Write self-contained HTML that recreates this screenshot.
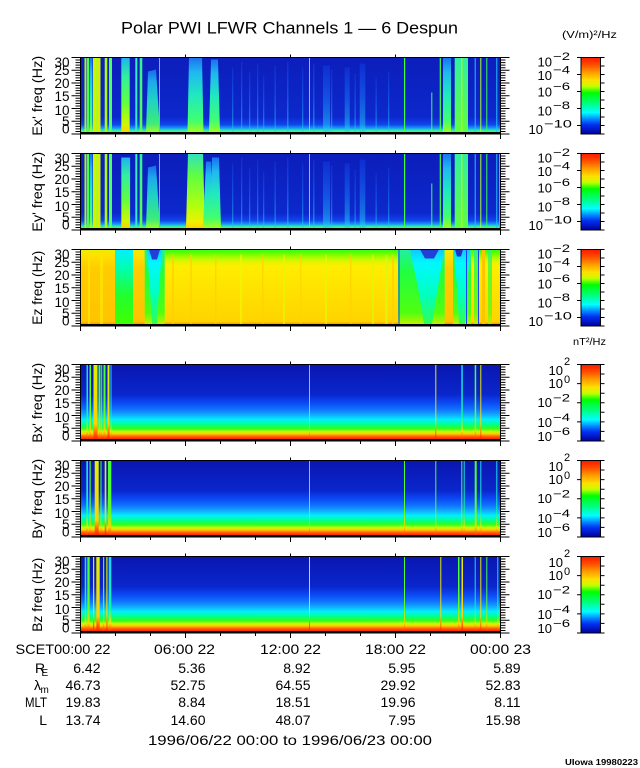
<!DOCTYPE html>
<html><head><meta charset="utf-8">
<style>
html,body{margin:0;padding:0;background:#fff;}
svg{display:block;}
text{font-family:"Liberation Sans",sans-serif;fill:#000;}
.yl{font-size:13.5px;text-anchor:end;}
.cb{font-size:13px;}
.sp{font-size:11px;}
.bt{font-size:14px;}
.ve{font-size:14px;text-anchor:end;}
</style></head>
<body>
<svg xmlns="http://www.w3.org/2000/svg" xmlns:xlink="http://www.w3.org/1999/xlink" width="640" height="768" viewBox="0 0 640 768">
<defs>
<linearGradient id="gCB" x1="0" y1="0" x2="0" y2="1">
<stop offset="0" stop-color="#ff1800"/><stop offset="0.1" stop-color="#ff5000"/><stop offset="0.2" stop-color="#ffa000"/><stop offset="0.3" stop-color="#ffe000"/><stop offset="0.38" stop-color="#c0ff00"/><stop offset="0.46" stop-color="#00ff00"/><stop offset="0.6" stop-color="#00ff80"/><stop offset="0.72" stop-color="#00ffff"/><stop offset="0.8" stop-color="#0090ff"/><stop offset="0.88" stop-color="#0030f0"/><stop offset="1" stop-color="#0000a0"/>
</linearGradient>
<linearGradient id="gE" x1="0" y1="0" x2="0" y2="1">
<stop offset="0" stop-color="#0c1eba"/><stop offset="0.8" stop-color="#0c28cc"/><stop offset="0.9" stop-color="#1044ee"/><stop offset="0.95" stop-color="#18a0f0"/><stop offset="0.98" stop-color="#30f0a0"/><stop offset="1" stop-color="#40ff60"/>
</linearGradient>
<linearGradient id="gPl" x1="0" y1="0" x2="0" y2="1">
<stop offset="0" stop-color="#1a70f0"/><stop offset="0.2" stop-color="#20b8f0"/><stop offset="0.5" stop-color="#20e8c0"/><stop offset="0.85" stop-color="#40ff70"/><stop offset="1" stop-color="#a0ff20"/>
</linearGradient>
<linearGradient id="gPlY" x1="0" y1="0" x2="0" y2="1">
<stop offset="0" stop-color="#20b0f0"/><stop offset="0.25" stop-color="#30f0a0"/><stop offset="0.6" stop-color="#60ff40"/><stop offset="0.9" stop-color="#d0f800"/><stop offset="1" stop-color="#ffd000"/>
</linearGradient>
<linearGradient id="gPlY2" x1="0" y1="0" x2="0" y2="1">
<stop offset="0" stop-color="#30e0c0"/><stop offset="0.3" stop-color="#60ff40"/><stop offset="0.7" stop-color="#b0ff10"/><stop offset="0.92" stop-color="#f0f000"/><stop offset="1" stop-color="#ffd000"/>
</linearGradient>
<linearGradient id="gCy" x1="0" y1="0" x2="0" y2="1">
<stop offset="0" stop-color="#1038e0"/><stop offset="0.5" stop-color="#1870f4"/><stop offset="1" stop-color="#20d0f0"/>
</linearGradient>
<linearGradient id="gGr" x1="0" y1="0" x2="0" y2="1">
<stop offset="0" stop-color="#30f0a0"/><stop offset="1" stop-color="#60ff40"/>
</linearGradient>
<linearGradient id="gYG" x1="0" y1="0" x2="1" y2="0">
<stop offset="0" stop-color="#b0ff10"/><stop offset="0.3" stop-color="#e8e800"/><stop offset="0.5" stop-color="#a0ff20"/><stop offset="0.75" stop-color="#e0e800"/><stop offset="1" stop-color="#c0f810"/>
</linearGradient>
<linearGradient id="gZ" x1="0" y1="0" x2="0" y2="1">
<stop offset="0" stop-color="#30ff10"/><stop offset="0.06" stop-color="#70ff00"/><stop offset="0.14" stop-color="#d0f800"/><stop offset="0.22" stop-color="#ffee00"/><stop offset="0.6" stop-color="#ffe000"/><stop offset="0.97" stop-color="#ffd400"/><stop offset="1" stop-color="#ff9000"/>
</linearGradient>
<linearGradient id="gZo" x1="0" y1="0" x2="0" y2="1">
<stop offset="0" stop-color="#e8f000"/><stop offset="0.08" stop-color="#ffe000"/><stop offset="0.25" stop-color="#ffcc00"/><stop offset="0.97" stop-color="#ffc400"/><stop offset="1" stop-color="#ff9000"/>
</linearGradient>
<linearGradient id="gZc1" x1="0" y1="0" x2="0" y2="1">
<stop offset="0" stop-color="#00f0ff"/><stop offset="0.25" stop-color="#00ffb0"/><stop offset="0.6" stop-color="#20ff30"/><stop offset="1" stop-color="#40ff00"/>
</linearGradient>
<linearGradient id="gZcy" x1="0" y1="0" x2="0" y2="1">
<stop offset="0" stop-color="#10c8ff"/><stop offset="0.18" stop-color="#00f8ff"/><stop offset="0.6" stop-color="#00ffc0"/><stop offset="1" stop-color="#30ff50"/>
</linearGradient>
<linearGradient id="gZg" x1="0" y1="0" x2="0" y2="1">
<stop offset="0" stop-color="#20f0a0"/><stop offset="0.3" stop-color="#20ff40"/><stop offset="0.85" stop-color="#50ff10"/><stop offset="1" stop-color="#c0f000"/>
</linearGradient>
<linearGradient id="gB" x1="0" y1="0" x2="0" y2="1">
<stop offset="0" stop-color="#0a16b0"/><stop offset="0.4" stop-color="#0a26cc"/><stop offset="0.5" stop-color="#0a44f0"/><stop offset="0.6" stop-color="#1070ff"/><stop offset="0.68" stop-color="#10b0ff"/><stop offset="0.74" stop-color="#00f0ff"/><stop offset="0.8" stop-color="#00ff90"/><stop offset="0.86" stop-color="#30ff20"/><stop offset="0.9" stop-color="#c0ff00"/><stop offset="0.93" stop-color="#ffd000"/><stop offset="0.96" stop-color="#ff7000"/><stop offset="1" stop-color="#ff2000"/>
</linearGradient>
<linearGradient id="gBs" x1="0" y1="0" x2="0" y2="1">
<stop offset="0" stop-color="#40ff40"/><stop offset="0.7" stop-color="#60ff20"/><stop offset="0.9" stop-color="#ffd000"/><stop offset="1" stop-color="#ff3000"/>
</linearGradient>
<linearGradient id="gBy" x1="0" y1="0" x2="0" y2="1">
<stop offset="0" stop-color="#e0f000"/><stop offset="0.8" stop-color="#ffd000"/><stop offset="1" stop-color="#ff2000"/>
</linearGradient>
<linearGradient id="gBc" x1="0" y1="0" x2="0" y2="1">
<stop offset="0" stop-color="#20d0ff"/><stop offset="0.7" stop-color="#00ffa0"/><stop offset="0.9" stop-color="#ffe000"/><stop offset="1" stop-color="#ff3000"/>
</linearGradient>
<g id="ax" fill="none" stroke="#000" stroke-width="1">
<rect x="80.5" y="0" width="420" height="76.5"/>
<path d="M80.5 0h-9M80.5 2.55h-5M80.5 5.1h-5M80.5 7.65h-5M80.5 10.2h-5M80.5 12.75h-9M80.5 15.3h-5M80.5 17.85h-5M80.5 20.4h-5M80.5 22.95h-5M80.5 25.5h-9M80.5 28.05h-5M80.5 30.6h-5M80.5 33.15h-5M80.5 35.7h-5M80.5 38.25h-9M80.5 40.8h-5M80.5 43.35h-5M80.5 45.9h-5M80.5 48.45h-5M80.5 51h-9M80.5 53.55h-5M80.5 56.1h-5M80.5 58.65h-5M80.5 61.2h-5M80.5 63.75h-9M80.5 66.3h-5M80.5 68.85h-5M80.5 71.4h-5M80.5 73.95h-5M80.5 76.5h-9"/>
<path d="M500.5 0h9M500.5 2.55h5M500.5 5.1h5M500.5 7.65h5M500.5 10.2h5M500.5 12.75h9M500.5 15.3h5M500.5 17.85h5M500.5 20.4h5M500.5 22.95h5M500.5 25.5h9M500.5 28.05h5M500.5 30.6h5M500.5 33.15h5M500.5 35.7h5M500.5 38.25h9M500.5 40.8h5M500.5 43.35h5M500.5 45.9h5M500.5 48.45h5M500.5 51h9M500.5 53.55h5M500.5 56.1h5M500.5 58.65h5M500.5 61.2h5M500.5 63.75h9M500.5 66.3h5M500.5 68.85h5M500.5 71.4h5M500.5 73.95h5M500.5 76.5h9"/>
<path d="M80.5 76.5v5M115.5 76.5v3M150.5 76.5v3M185.5 76.5v5M220.5 76.5v3M255.5 76.5v3M290.5 76.5v5M325.5 76.5v3M360.5 76.5v3M395.5 76.5v5M430.5 76.5v3M465.5 76.5v3M500.5 76.5v5M185.5 0v-3M290.5 0v-3M395.5 0v-3"/>
</g>
<g id="cbE">
<rect x="581" y="0" width="19.5" height="76.5" fill="url(#gCB)" stroke="#000" stroke-width="1"/>
<path d="M581 0h-4M581 17h-4M581 34h-4M581 51h-4M581 68h-4M600.5 0h4M600.5 8.5h4M600.5 17h4M600.5 25.5h4M600.5 34h4M600.5 42.5h4M600.5 51h4M600.5 59.5h4M600.5 68h4M600.5 76.5h4" stroke="#000" stroke-width="1" fill="none"/>
</g>
<g id="cbB">
<rect x="581" y="0" width="19.5" height="76.5" fill="url(#gCB)" stroke="#000" stroke-width="1"/>
<path d="M581 0h-4M581 19.1h-4M581 38.25h-4M581 57.4h-4M581 76.5h-4M600.5 0h4M600.5 9.56h4M600.5 19.1h4M600.5 28.7h4M600.5 38.25h4M600.5 47.8h4M600.5 57.4h4M600.5 66.9h4M600.5 76.5h4" stroke="#000" stroke-width="1" fill="none"/>
</g>
</defs>
<rect width="640" height="768" fill="#fff"/>

<!-- Title -->
<text x="121" y="33.3" font-size="17" textLength="337" lengthAdjust="spacingAndGlyphs">Polar PWI LFWR Channels 1 — 6 Despun</text>
<text x="562" y="38" font-size="10.5" textLength="55" lengthAdjust="spacingAndGlyphs">(V/m)²/Hz</text>
<text x="573" y="345" font-size="10.5" textLength="33" lengthAdjust="spacingAndGlyphs">nT²/Hz</text>

<!-- PANEL 1 Ex' -->
<g transform="translate(0,57.5)">
<rect x="81" y="0" width="419.5" height="74.5" fill="url(#gE)"/>
<rect x="84.5" y="0" width="2" height="74.5" fill="#a8f818"/>
<rect x="87" y="0" width="2" height="74.5" fill="#48ff50"/>
<rect x="89.5" y="0" width="3" height="74.5" fill="url(#gPl)"/>
<rect x="93" y="0" width="7.5" height="74.5" fill="url(#gYG)"/>
<rect x="104.7" y="0" width="2.6" height="74.5" fill="#a8f818"/>
<rect x="109" y="0" width="3" height="74.5" fill="#50ff60"/>
<rect x="121.3" y="0" width="8.4" height="74.5" fill="url(#gPlY)"/>
<rect x="135.3" y="0" width="2" height="74.5" fill="#30f0c0"/>
<rect x="139.7" y="0" width="2.6" height="74.5" fill="url(#gGr)"/>
<polygon points="148,14 156,12 160,74.5 146,74.5" fill="url(#gPl)" opacity="0.9"/>
<rect x="159" y="0" width="1" height="74.5" fill="#30d0f0"/>
<polygon points="189,0 202,0 203.5,74.5 187.5,74.5" fill="url(#gPl)"/>
<polygon points="211,2 218,2 220,74.5 209,74.5" fill="url(#gPl)"/>
<g fill="url(#gCy)" opacity="0.6">
<rect x="232" y="10" width="1.3" height="64.5"/><rect x="241" y="4" width="1.3" height="70.5"/><rect x="249" y="14" width="1.3" height="60.5"/><rect x="257" y="6" width="1.3" height="68.5"/><rect x="263" y="18" width="1.3" height="56.5"/><rect x="274.5" y="8" width="1.3" height="66.5"/><rect x="287" y="4" width="1.5" height="70.5"/><rect x="302" y="10" width="1.3" height="64.5"/><rect x="313" y="6" width="1.5" height="68.5"/><rect x="323" y="8" width="7" height="66.5"/><rect x="331" y="12" width="1.3" height="62.5"/><rect x="344.7" y="10" width="5" height="64.5"/><rect x="354.5" y="16" width="1.3" height="58.5"/><rect x="359.7" y="6" width="5.6" height="68.5"/><rect x="375.5" y="20" width="1.3" height="54.5"/><rect x="388" y="14" width="1.3" height="60.5"/>
</g>
<rect x="309" y="0" width="1" height="74.5" fill="#40ff50"/>
<rect x="404" y="0" width="1.2" height="74.5" fill="#40ff40"/>
<rect x="431.3" y="35" width="1" height="39.5" fill="#40ff60"/>
<rect x="439.7" y="0" width="1.2" height="74.5" fill="#40ff40"/>
<rect x="443" y="0" width="8" height="74.5" fill="url(#gPl)"/>
<rect x="454.7" y="0" width="13.3" height="74.5" fill="url(#gGr)"/>
<rect x="461.3" y="0" width="1" height="74.5" fill="#e0f000"/>
<rect x="474.7" y="0" width="1" height="74.5" fill="#20c0ff"/>
<rect x="480.3" y="0" width="1" height="74.5" fill="#b0ff20"/>
<rect x="486.3" y="0" width="1" height="74.5" fill="#40ff40"/>
<rect x="496.3" y="0" width="1" height="74.5" fill="#20c0ff"/>
<rect x="80.5" y="74.5" width="420" height="2.5" fill="#000"/>
<use xlink:href="#ax"/>
<use xlink:href="#cbE"/>
</g>

<!-- PANEL 2 Ey' -->
<g transform="translate(0,153.5)">
<rect x="81" y="0" width="419.5" height="74.5" fill="url(#gE)"/>
<rect x="84.5" y="0" width="2" height="74.5" fill="#a8f818"/>
<rect x="87" y="0" width="2" height="74.5" fill="#48ff50"/>
<rect x="89.5" y="0" width="3" height="74.5" fill="url(#gPl)"/>
<rect x="93" y="0" width="7.5" height="74.5" fill="url(#gYG)"/>
<rect x="104.7" y="0" width="2.6" height="74.5" fill="#a8f818"/>
<rect x="109" y="0" width="3" height="74.5" fill="#50ff60"/>
<rect x="121.3" y="4" width="8.8" height="70.5" fill="url(#gPlY)"/>
<rect x="135.3" y="0" width="2" height="74.5" fill="#30f0c0"/>
<rect x="139.7" y="0" width="2.6" height="74.5" fill="url(#gGr)"/>
<polygon points="148,14 156,12 160,74.5 146,74.5" fill="url(#gPl)" opacity="0.9"/>
<rect x="159" y="0" width="1" height="74.5" fill="#30d0f0"/>
<polygon points="188,0 203,0 205,74.5 186,74.5" fill="url(#gPlY2)"/>
<polygon points="206,8 211,8 213,74.5 203,74.5" fill="url(#gPl)"/>
<polygon points="212,4 219,4 221,74.5 210,74.5" fill="url(#gPl)"/>
<g fill="url(#gCy)" opacity="0.6">
<rect x="232" y="10" width="1.3" height="64.5"/><rect x="241" y="4" width="1.3" height="70.5"/><rect x="249" y="14" width="1.3" height="60.5"/><rect x="257" y="6" width="1.3" height="68.5"/><rect x="263" y="18" width="1.3" height="56.5"/><rect x="274.5" y="8" width="1.3" height="66.5"/><rect x="287" y="4" width="1.5" height="70.5"/><rect x="302" y="10" width="1.3" height="64.5"/><rect x="313" y="6" width="1.5" height="68.5"/><rect x="323" y="8" width="7" height="66.5"/><rect x="331" y="12" width="1.3" height="62.5"/><rect x="344.7" y="10" width="5" height="64.5"/><rect x="354.5" y="16" width="1.3" height="58.5"/><rect x="359.7" y="6" width="5.6" height="68.5"/><rect x="375.5" y="20" width="1.3" height="54.5"/><rect x="388" y="14" width="1.3" height="60.5"/>
</g>
<rect x="309" y="0" width="1" height="74.5" fill="#40ff50"/>
<rect x="404" y="0" width="1.2" height="74.5" fill="#40ff40"/>
<rect x="431.3" y="30" width="1" height="44.5" fill="#40ff60"/>
<rect x="439.7" y="0" width="1.2" height="74.5" fill="#40ff40"/>
<rect x="443" y="0" width="8" height="74.5" fill="url(#gPl)"/>
<rect x="454.7" y="0" width="13.3" height="74.5" fill="url(#gGr)"/>
<rect x="461.3" y="0" width="1" height="74.5" fill="#e0f000"/>
<rect x="474.7" y="0" width="1" height="74.5" fill="#20c0ff"/>
<rect x="480.3" y="0" width="1" height="74.5" fill="#b0ff20"/>
<rect x="486.3" y="0" width="1" height="74.5" fill="#40ff40"/>
<rect x="496.3" y="0" width="1" height="74.5" fill="#20c0ff"/>
<rect x="499" y="0" width="1" height="74.5" fill="#20c0ff"/>
<rect x="80.5" y="74.5" width="420" height="2.5" fill="#000"/>
<use xlink:href="#ax"/>
<use xlink:href="#cbE"/>
</g>

<!-- PANEL 3 Ez -->
<g transform="translate(0,249.5)">
<rect x="81" y="0" width="419.5" height="74.5" fill="url(#gZ)"/>
<rect x="81" y="0" width="34" height="74.5" fill="url(#gZo)"/>
<rect x="88" y="0" width="2" height="74.5" fill="#ffe400" opacity="0.8"/>
<rect x="100" y="0" width="3" height="74.5" fill="#ffe400" opacity="0.8"/>
<rect x="115" y="0" width="18" height="74.5" fill="url(#gZc1)"/>
<rect x="133" y="0" width="11.7" height="74.5" fill="url(#gZo)"/>
<rect x="144.7" y="0" width="20" height="74.5" fill="url(#gZg)"/>
<polygon points="147,0 162,0 159,40 157,74.5 152,74.5 150,40" fill="url(#gZcy)"/>
<polygon points="149,0 160,0 157,10 152,10" fill="#2040d8"/>
<g opacity="0.7">
<rect x="172" y="5" width="2" height="69.5" fill="#ffd000"/><rect x="190" y="5" width="2" height="69.5" fill="#ffd400"/><rect x="215" y="5" width="1.5" height="69.5" fill="#ffd000"/><rect x="240" y="5" width="2" height="69.5" fill="#f0f800"/><rect x="262" y="5" width="1.5" height="69.5" fill="#ffd000"/><rect x="283" y="5" width="2" height="69.5" fill="#e8f800"/><rect x="300" y="5" width="1.5" height="69.5" fill="#ffd400"/><rect x="325" y="5" width="2" height="69.5" fill="#e8f800"/><rect x="350" y="5" width="1.5" height="69.5" fill="#ffd000"/><rect x="372" y="5" width="2" height="69.5" fill="#e0f800"/><rect x="385" y="5" width="3" height="69.5" fill="#d0ff10"/><rect x="392" y="5" width="2" height="69.5" fill="#ffd000"/>
</g>
<rect x="398" y="0" width="10" height="74.5" fill="url(#gZg)"/>
<rect x="398.5" y="0" width="1" height="74.5" fill="#2040ff"/>
<rect x="408" y="0" width="37" height="74.5" fill="url(#gZg)"/>
<polygon points="410,0 444,0 438,38 432,74.5 424,74.5 418,38" fill="url(#gZcy)"/>
<polygon points="420,0 439,0 434,9 425,9" fill="#2040d8"/>
<rect x="444.7" y="0" width="8.3" height="74.5" fill="url(#gZo)"/>
<rect x="453" y="0" width="18" height="74.5" fill="url(#gZg)"/>
<polygon points="454,0 470,0 467,38 465,74.5 459,74.5 457,38" fill="url(#gZcy)"/>
<polygon points="455,0 463,0 461,7 457,7" fill="#2030c8"/>
<rect x="466" y="0" width="1" height="74.5" fill="#2040ff"/>
<rect x="474" y="0" width="4" height="74.5" fill="url(#gZg)" opacity="0.8"/>
<rect x="478" y="0" width="1" height="74.5" fill="#2040ff"/>
<rect x="482" y="0" width="3" height="74.5" fill="#ffc400"/>
<rect x="488" y="0" width="4" height="74.5" fill="url(#gZg)" opacity="0.7"/>
<rect x="80.5" y="74.5" width="420" height="2.5" fill="#000"/>
<use xlink:href="#ax"/>
<use xlink:href="#cbE"/>
</g>

<!-- PANEL 4 Bx' -->
<g transform="translate(0,364.5)">
<rect x="81" y="0" width="419.5" height="74.5" fill="url(#gB)"/>
<rect x="86.5" y="0" width="1.5" height="74.5" fill="url(#gBc)"/>
<rect x="89.5" y="0" width="1.5" height="74.5" fill="url(#gBs)"/>
<rect x="93.5" y="0" width="4" height="74.5" fill="url(#gBy)"/>
<rect x="98.5" y="0" width="2" height="74.5" fill="url(#gBs)"/>
<rect x="101.2" y="0" width="1" height="74.5" fill="url(#gBs)"/>
<rect x="103.5" y="0" width="2" height="74.5" fill="url(#gBs)"/>
<rect x="107.5" y="0" width="2" height="74.5" fill="url(#gBy)"/>
<rect x="110.5" y="0" width="1" height="74.5" fill="url(#gBc)"/>
<rect x="309" y="0" width="1" height="74.5" fill="url(#gBs)"/>
<rect x="435.3" y="0" width="1" height="74.5" fill="url(#gBy)"/>
<rect x="461.3" y="0" width="1.5" height="74.5" fill="url(#gBc)"/>
<rect x="474.7" y="0" width="1.5" height="74.5" fill="url(#gBs)"/>
<rect x="480.3" y="0" width="1" height="74.5" fill="url(#gBy)"/>
<rect x="80.5" y="74.5" width="420" height="2.5" fill="#000"/>
<use xlink:href="#ax"/>
<use xlink:href="#cbB"/>
</g>

<!-- PANEL 5 By' -->
<g transform="translate(0,460.5)">
<rect x="81" y="0" width="419.5" height="74.5" fill="url(#gB)"/>
<rect x="86.3" y="0" width="1.7" height="74.5" fill="url(#gBc)"/>
<rect x="89.5" y="0" width="1.2" height="74.5" fill="url(#gBs)"/>
<rect x="94.7" y="0" width="4" height="74.5" fill="url(#gBy)"/>
<rect x="100.5" y="0" width="1" height="74.5" fill="url(#gBs)"/>
<rect x="104.7" y="0" width="1.6" height="74.5" fill="url(#gBy)"/>
<rect x="108" y="0" width="3.3" height="74.5" fill="url(#gBs)"/>
<rect x="309" y="0" width="1" height="74.5" fill="url(#gBs)"/>
<rect x="404" y="0" width="1" height="74.5" fill="url(#gBs)"/>
<rect x="435.3" y="0" width="1" height="74.5" fill="url(#gBs)"/>
<rect x="461.3" y="0" width="1" height="74.5" fill="url(#gBs)"/>
<rect x="463.7" y="0" width="1" height="74.5" fill="url(#gBc)"/>
<rect x="474.7" y="0" width="2" height="74.5" fill="url(#gBs)"/>
<rect x="480.3" y="0" width="1" height="74.5" fill="url(#gBc)"/>
<rect x="496.3" y="0" width="1" height="74.5" fill="url(#gBc)"/>
<rect x="80.5" y="74.5" width="420" height="2.5" fill="#000"/>
<use xlink:href="#ax"/>
<use xlink:href="#cbB"/>
</g>

<!-- PANEL 6 Bz -->
<g transform="translate(0,556.5)">
<rect x="81" y="0" width="419.5" height="74.5" fill="url(#gB)"/>
<rect x="84.7" y="0" width="1.6" height="74.5" fill="url(#gBc)"/>
<rect x="87.3" y="0" width="2.4" height="74.5" fill="url(#gBs)"/>
<rect x="93" y="0" width="1.2" height="74.5" fill="url(#gBy)"/>
<rect x="96.3" y="0" width="3.4" height="74.5" fill="url(#gBy)"/>
<rect x="103" y="0" width="1.2" height="74.5" fill="url(#gBs)"/>
<rect x="106.3" y="0" width="1.2" height="74.5" fill="url(#gBy)"/>
<rect x="108.7" y="0" width="2.6" height="74.5" fill="url(#gBc)"/>
<rect x="309" y="0" width="1" height="74.5" fill="url(#gBy)"/>
<rect x="404" y="0" width="1" height="74.5" fill="url(#gBs)"/>
<rect x="440.3" y="0" width="1" height="74.5" fill="url(#gBy)"/>
<rect x="458" y="0" width="1.5" height="74.5" fill="url(#gBs)"/>
<rect x="461.5" y="0" width="1.5" height="74.5" fill="url(#gBy)"/>
<rect x="474.7" y="0" width="1" height="74.5" fill="url(#gBc)"/>
<rect x="480.3" y="0" width="1" height="74.5" fill="url(#gBy)"/>
<rect x="486.3" y="0" width="1" height="74.5" fill="url(#gBs)"/>
<rect x="497.3" y="0" width="1" height="74.5" fill="url(#gBc)"/>
<rect x="80.5" y="74.5" width="420" height="2.5" fill="#000"/>
<use xlink:href="#ax"/>
<use xlink:href="#cbB"/>
</g>

<!-- Y titles -->
<text transform="translate(42,95.8) rotate(-90)" font-size="13.5" text-anchor="middle" textLength="80" lengthAdjust="spacingAndGlyphs">Ex' freq (Hz)</text>
<text transform="translate(42,191.8) rotate(-90)" font-size="13.5" text-anchor="middle" textLength="80" lengthAdjust="spacingAndGlyphs">Ey' freq (Hz)</text>
<text transform="translate(42,287.8) rotate(-90)" font-size="13.5" text-anchor="middle" textLength="74" lengthAdjust="spacingAndGlyphs">Ez freq (Hz)</text>
<text transform="translate(42,402.8) rotate(-90)" font-size="13.5" text-anchor="middle" textLength="80" lengthAdjust="spacingAndGlyphs">Bx' freq (Hz)</text>
<text transform="translate(42,498.8) rotate(-90)" font-size="13.5" text-anchor="middle" textLength="80" lengthAdjust="spacingAndGlyphs">By' freq (Hz)</text>
<text transform="translate(42,594.8) rotate(-90)" font-size="13.5" text-anchor="middle" textLength="74" lengthAdjust="spacingAndGlyphs">Bz freq (Hz)</text>

<!-- Y tick labels -->
<text class="yl" x="69.5" y="67">30</text><text class="yl" x="69.5" y="74.8">25</text><text class="yl" x="69.5" y="87.8">20</text><text class="yl" x="69.5" y="101.2">15</text><text class="yl" x="69.5" y="114.8">10</text><text class="yl" x="69.5" y="126.2">5</text><text class="yl" x="69.5" y="133.5">0</text>
<text class="yl" x="69.5" y="163">30</text><text class="yl" x="69.5" y="170.8">25</text><text class="yl" x="69.5" y="183.8">20</text><text class="yl" x="69.5" y="197.2">15</text><text class="yl" x="69.5" y="210.8">10</text><text class="yl" x="69.5" y="222.2">5</text><text class="yl" x="69.5" y="229.5">0</text>
<text class="yl" x="69.5" y="259">30</text><text class="yl" x="69.5" y="266.8">25</text><text class="yl" x="69.5" y="279.8">20</text><text class="yl" x="69.5" y="293.2">15</text><text class="yl" x="69.5" y="306.8">10</text><text class="yl" x="69.5" y="318.2">5</text><text class="yl" x="69.5" y="325.5">0</text>
<text class="yl" x="69.5" y="374">30</text><text class="yl" x="69.5" y="381.8">25</text><text class="yl" x="69.5" y="394.8">20</text><text class="yl" x="69.5" y="408.2">15</text><text class="yl" x="69.5" y="421.8">10</text><text class="yl" x="69.5" y="433.2">5</text><text class="yl" x="69.5" y="440.5">0</text>
<text class="yl" x="69.5" y="470">30</text><text class="yl" x="69.5" y="477.8">25</text><text class="yl" x="69.5" y="490.8">20</text><text class="yl" x="69.5" y="504.2">15</text><text class="yl" x="69.5" y="517.8">10</text><text class="yl" x="69.5" y="529.2">5</text><text class="yl" x="69.5" y="536.5">0</text>
<text class="yl" x="69.5" y="566">30</text><text class="yl" x="69.5" y="573.8">25</text><text class="yl" x="69.5" y="586.8">20</text><text class="yl" x="69.5" y="600.2">15</text><text class="yl" x="69.5" y="613.8">10</text><text class="yl" x="69.5" y="625.2">5</text><text class="yl" x="69.5" y="632.5">0</text>

<!-- E colorbar labels P1 (T=57.5) -->
<text class="cb" x="552" y="66.5" text-anchor="end">10</text><text class="sp" x="553" y="60" textLength="17" lengthAdjust="spacingAndGlyphs">−2</text>
<text class="cb" x="552" y="80" text-anchor="end">10</text><text class="sp" x="553" y="73.5" textLength="17" lengthAdjust="spacingAndGlyphs">−4</text>
<text class="cb" x="552" y="96.5" text-anchor="end">10</text><text class="sp" x="553" y="90" textLength="17" lengthAdjust="spacingAndGlyphs">−6</text>
<text class="cb" x="552" y="115.5" text-anchor="end">10</text><text class="sp" x="553" y="109" textLength="17" lengthAdjust="spacingAndGlyphs">−8</text>
<text class="cb" x="543" y="134" text-anchor="end">10</text><text class="sp" x="544" y="127.5" textLength="28" lengthAdjust="spacingAndGlyphs">−10</text>
<!-- P2 (T=153.5) -->
<text class="cb" x="552" y="162.5" text-anchor="end">10</text><text class="sp" x="553" y="156" textLength="17" lengthAdjust="spacingAndGlyphs">−2</text>
<text class="cb" x="552" y="176" text-anchor="end">10</text><text class="sp" x="553" y="169.5" textLength="17" lengthAdjust="spacingAndGlyphs">−4</text>
<text class="cb" x="552" y="192.5" text-anchor="end">10</text><text class="sp" x="553" y="186" textLength="17" lengthAdjust="spacingAndGlyphs">−6</text>
<text class="cb" x="552" y="211.5" text-anchor="end">10</text><text class="sp" x="553" y="205" textLength="17" lengthAdjust="spacingAndGlyphs">−8</text>
<text class="cb" x="543" y="230" text-anchor="end">10</text><text class="sp" x="544" y="223.5" textLength="28" lengthAdjust="spacingAndGlyphs">−10</text>
<!-- P3 (T=249.5) -->
<text class="cb" x="552" y="258.5" text-anchor="end">10</text><text class="sp" x="553" y="252" textLength="17" lengthAdjust="spacingAndGlyphs">−2</text>
<text class="cb" x="552" y="272" text-anchor="end">10</text><text class="sp" x="553" y="265.5" textLength="17" lengthAdjust="spacingAndGlyphs">−4</text>
<text class="cb" x="552" y="288.5" text-anchor="end">10</text><text class="sp" x="553" y="282" textLength="17" lengthAdjust="spacingAndGlyphs">−6</text>
<text class="cb" x="552" y="307.5" text-anchor="end">10</text><text class="sp" x="553" y="301" textLength="17" lengthAdjust="spacingAndGlyphs">−8</text>
<text class="cb" x="543" y="326" text-anchor="end">10</text><text class="sp" x="544" y="319.5" textLength="28" lengthAdjust="spacingAndGlyphs">−10</text>

<!-- B colorbar labels P4 (T=364.5) -->
<text class="cb" x="563" y="375" text-anchor="end">10</text><text class="sp" x="564" y="365">2</text>
<text class="cb" x="563" y="388" text-anchor="end">10</text><text class="sp" x="564" y="383">0</text>
<text class="cb" x="552" y="407" text-anchor="end">10</text><text class="sp" x="553" y="401.5" textLength="17" lengthAdjust="spacingAndGlyphs">−2</text>
<text class="cb" x="552" y="427" text-anchor="end">10</text><text class="sp" x="553" y="421" textLength="17" lengthAdjust="spacingAndGlyphs">−4</text>
<text class="cb" x="552" y="441" text-anchor="end">10</text><text class="sp" x="553" y="435" textLength="17" lengthAdjust="spacingAndGlyphs">−6</text>
<!-- P5 (T=460.5) -->
<text class="cb" x="563" y="471" text-anchor="end">10</text><text class="sp" x="564" y="461">2</text>
<text class="cb" x="563" y="484" text-anchor="end">10</text><text class="sp" x="564" y="479">0</text>
<text class="cb" x="552" y="503" text-anchor="end">10</text><text class="sp" x="553" y="497.5" textLength="17" lengthAdjust="spacingAndGlyphs">−2</text>
<text class="cb" x="552" y="523" text-anchor="end">10</text><text class="sp" x="553" y="517" textLength="17" lengthAdjust="spacingAndGlyphs">−4</text>
<text class="cb" x="552" y="537" text-anchor="end">10</text><text class="sp" x="553" y="531" textLength="17" lengthAdjust="spacingAndGlyphs">−6</text>
<!-- P6 (T=556.5) -->
<text class="cb" x="563" y="567" text-anchor="end">10</text><text class="sp" x="564" y="557">2</text>
<text class="cb" x="563" y="580" text-anchor="end">10</text><text class="sp" x="564" y="575">0</text>
<text class="cb" x="552" y="599" text-anchor="end">10</text><text class="sp" x="553" y="593.5" textLength="17" lengthAdjust="spacingAndGlyphs">−2</text>
<text class="cb" x="552" y="619" text-anchor="end">10</text><text class="sp" x="553" y="613" textLength="17" lengthAdjust="spacingAndGlyphs">−4</text>
<text class="cb" x="552" y="633" text-anchor="end">10</text><text class="sp" x="553" y="627" textLength="17" lengthAdjust="spacingAndGlyphs">−6</text>

<!-- Bottom info -->
<text class="bt" x="15.5" y="654" textLength="95" lengthAdjust="spacingAndGlyphs">SCET00:00 22</text>
<text class="bt" x="154" y="654" textLength="61" lengthAdjust="spacingAndGlyphs">06:00 22</text>
<text class="bt" x="260" y="654" textLength="61" lengthAdjust="spacingAndGlyphs">12:00 22</text>
<text class="bt" x="365" y="654" textLength="61" lengthAdjust="spacingAndGlyphs">18:00 22</text>
<text class="bt" x="470" y="654" textLength="61" lengthAdjust="spacingAndGlyphs">00:00 23</text>

<text x="35" y="673" font-size="14">R</text><text x="41.5" y="676" font-size="10">E</text>
<text x="34" y="690" font-size="14">λ</text><text x="40.5" y="693" font-size="10">m</text>
<text x="47" y="707" font-size="14" text-anchor="end" textLength="22" lengthAdjust="spacingAndGlyphs">MLT</text>
<text x="47" y="725" font-size="14" text-anchor="end">L</text>

<text class="ve" x="100.5" y="673">6.42</text><text class="ve" x="205.5" y="673">5.36</text><text class="ve" x="310.5" y="673">8.92</text><text class="ve" x="415.5" y="673">5.95</text><text class="ve" x="520.5" y="673">5.89</text>
<text class="ve" x="100.5" y="690">46.73</text><text class="ve" x="205.5" y="690">52.75</text><text class="ve" x="310.5" y="690">64.55</text><text class="ve" x="415.5" y="690">29.92</text><text class="ve" x="520.5" y="690">52.83</text>
<text class="ve" x="100.5" y="707">19.83</text><text class="ve" x="205.5" y="707">8.84</text><text class="ve" x="310.5" y="707">18.51</text><text class="ve" x="415.5" y="707">19.96</text><text class="ve" x="520.5" y="707">8.11</text>
<text class="ve" x="100.5" y="725">13.74</text><text class="ve" x="205.5" y="725">14.60</text><text class="ve" x="310.5" y="725">48.07</text><text class="ve" x="415.5" y="725">7.95</text><text class="ve" x="520.5" y="725">15.98</text>

<text class="bt" x="148" y="745" textLength="284" lengthAdjust="spacingAndGlyphs">1996/06/22 00:00 to 1996/06/23 00:00</text>
<text x="565" y="765" font-size="8.5" font-weight="bold" textLength="73" lengthAdjust="spacingAndGlyphs">UIowa 19980223</text>
</svg>
</body></html>
